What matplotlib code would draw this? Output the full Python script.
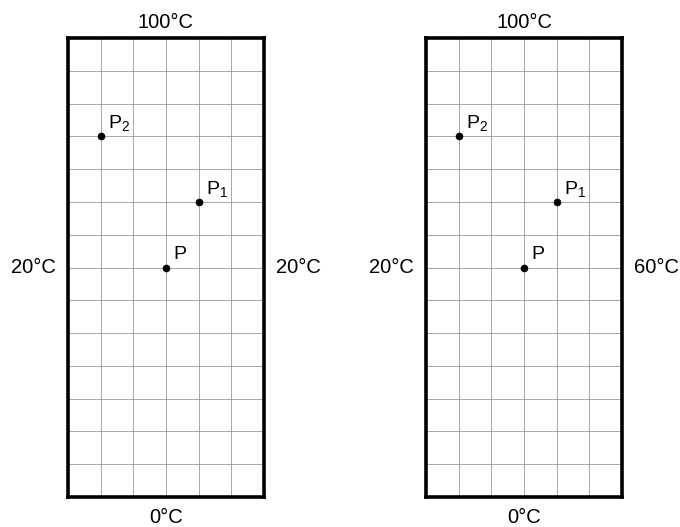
import matplotlib.pyplot as plt

plt.rcParams['font.family'] = ['Liberation Sans', 'DejaVu Sans']

ncols = 6
nrows = 14
point_names = ['P', 'P_1', 'P_2']
point_x = [3, 4, 1]
point_y = [7, 9, 11]
top_labels = ['100°C', '100°C']
bottom_labels = ['0°C', '0°C']
left_labels = ['20°C', '20°C']
right_labels = ['20°C', '60°C']

fig = plt.figure(figsize=(6.8, 5.27), dpi=100)
lefts = [68 / 680, 426 / 680]

for i, left in enumerate(lefts):
    ax = fig.add_axes([left, 30 / 527, 196 / 680, 459 / 527])
    ax.set_xlim(0, ncols)
    ax.set_ylim(0, nrows)
    for k in range(1, ncols):
        ax.axvline(k, color='#999999', lw=0.6)
    for k in range(1, nrows):
        ax.axhline(k, color='#999999', lw=0.6)
    for s in ax.spines.values():
        s.set_linewidth(2.6)
        s.set_color('black')
    ax.set_xticks([])
    ax.set_yticks([])

    ax.scatter(point_x, point_y, s=20, color='black', zorder=3)
    for name, x, y in zip(point_names, point_x, point_y):
        ax.annotate(r'$\mathregular{%s}$' % name, (x, y), xytext=(5, 6),
                    textcoords='offset points', fontsize=14)

    ax.text(0.5, 1.033, top_labels[i], transform=ax.transAxes,
            ha='center', va='center', fontsize=14.5)
    ax.text(0.5, -0.045, bottom_labels[i], transform=ax.transAxes,
            ha='center', va='center', fontsize=14.5)
    ax.text(-0.06, 0.5, left_labels[i], transform=ax.transAxes,
            ha='right', va='center', fontsize=14.5)
    ax.text(1.06, 0.5, right_labels[i], transform=ax.transAxes,
            ha='left', va='center', fontsize=14.5)

fig.savefig('out.png', dpi=100)
